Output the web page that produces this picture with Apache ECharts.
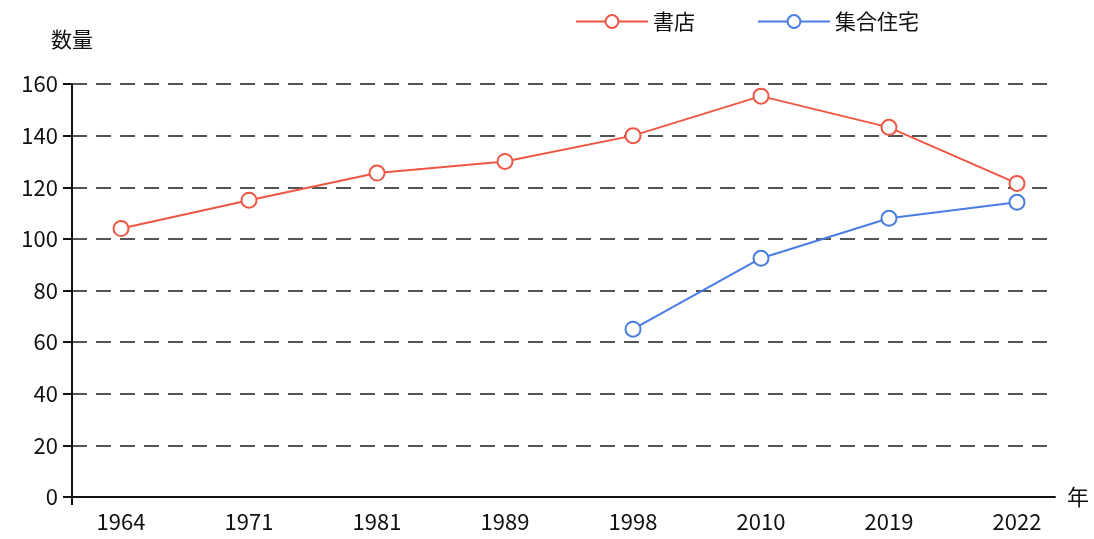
<!DOCTYPE html>
<html>
<head>
<meta charset="utf-8">
<title>書店と集合住宅</title>
<script src="https://cdn.jsdelivr.net/npm/echarts@6/dist/echarts.min.js"></script>
<style>html,body{margin:0;padding:0;background:#fff;}</style>
</head>
<body>
<div id="main" style="width:1094px;height:539px;"></div>
<script type="text/javascript">
var years = ['1964', '1971', '1981', '1989', '1998', '2010', '2019', '2022'];
var shoten = [104, 115, 125.5, 130, 140, 155.3, 143.2, 121.5];
var shugo = [null, null, null, null, 65, 92.5, 108, 114.2];
var yTicks = [0, 20, 40, 60, 80, 100, 120, 140, 160];

function pts(arr) {
    var out = [];
    for (var i = 0; i < arr.length; i++) {
        if (arr[i] != null) out.push([i, arr[i]]);
    }
    return out;
}
var yearIdx = years.map(function (y, i) { return i; });

var font = '"Noto Sans CJK JP", "Noto Sans", sans-serif';
var myChart = echarts.init(document.getElementById('main'));
var option = {
    animation: false,
    textStyle: { fontFamily: font },
    legend: {
        data: ['書店', '集合住宅'],
        top: 6,
        left: 570,
        itemWidth: 72,
        itemHeight: 16,
        itemGap: 62,
        textStyle: { fontSize: 21, color: '#111', fontFamily: font }
    },
    grid: { left: 72, right: 39, top: 84, bottom: 42 },
    xAxis: {
        type: 'value',
        min: -0.383,
        max: 7.297,
        name: '年',
        nameGap: 12,
        nameTextStyle: { fontSize: 22, color: '#111', verticalAlign: 'middle' },
        splitLine: { show: false },
        axisTick: {
            show: true,
            customValues: [-0.383],
            length: 8,
            lineStyle: { color: '#111', width: 2 }
        },
        axisLine: { lineStyle: { color: '#111', width: 2 } },
        axisLabel: {
            fontSize: 22,
            color: '#111',
            margin: 14,
            customValues: yearIdx,
            formatter: function (v) {
                return years[Math.round(v)];
            }
        }
    },
    yAxis: {
        type: 'value',
        min: yTicks[0],
        max: yTicks[yTicks.length - 1],
        interval: 20,
        name: '数量',
        nameGap: 34,
        nameTextStyle: { fontSize: 21, color: '#111', align: 'center' },
        axisLine: { show: true, onZero: false, lineStyle: { color: '#111', width: 2 } },
        axisTick: { show: true, length: 9, lineStyle: { color: '#111', width: 2 } },
        axisLabel: { fontSize: 22, color: '#111', margin: 14 },
        splitLine: {
            show: true,
            lineStyle: { color: '#555', width: 2, type: [15, 9] }
        }
    },
    series: [
        {
            name: '書店',
            type: 'line',
            data: pts(shoten),
            color: '#ef5644',
            symbol: 'circle',
            symbolSize: 15,
            itemStyle: { color: '#fff', borderColor: '#ef5644', borderWidth: 2 },
            lineStyle: { color: '#ef5644', width: 2 }
        },
        {
            name: '集合住宅',
            type: 'line',
            data: pts(shugo),
            color: '#4a7de3',
            symbol: 'circle',
            symbolSize: 15,
            itemStyle: { color: '#fff', borderColor: '#4a7de3', borderWidth: 2 },
            lineStyle: { color: '#4a7de3', width: 2 }
        }
    ]
};
myChart.setOption(option);
window.onresize = function () {
    myChart.resize();
};
</script>
</body>
</html>
